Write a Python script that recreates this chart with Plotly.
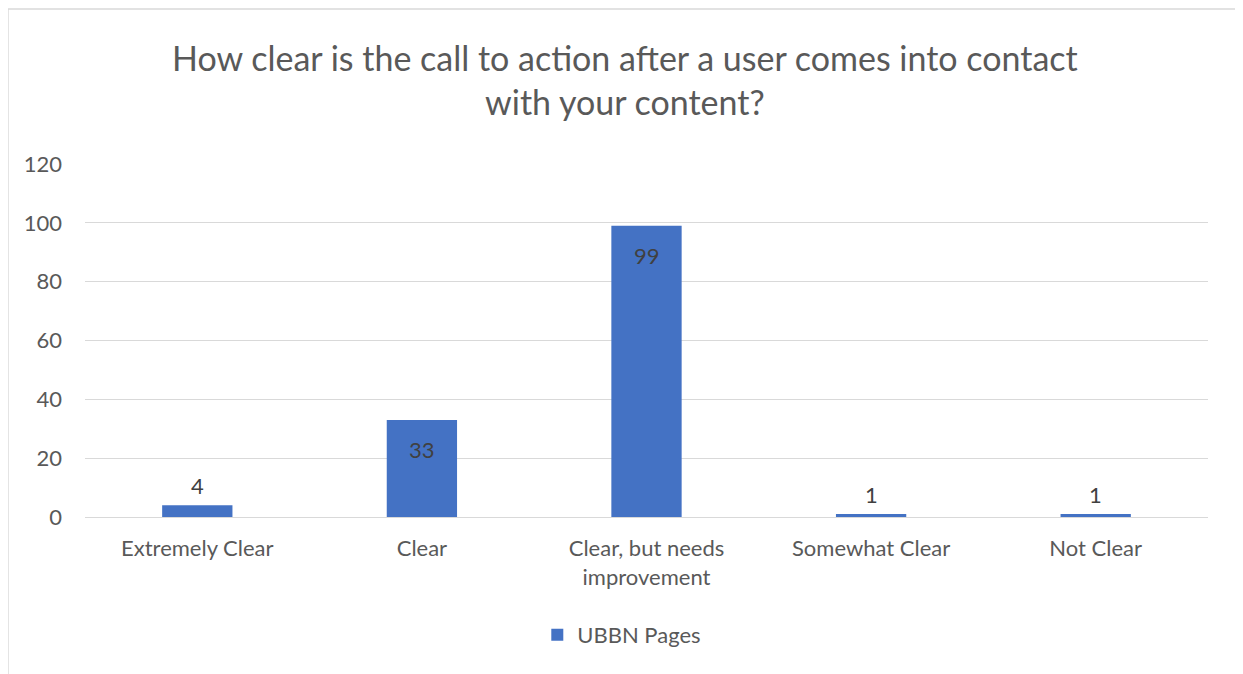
import plotly.graph_objects as go

# survey answers
categories = ["Extremely Clear", "Clear", "Clear, but needs<br>improvement",
              "Somewhat Clear", "Not Clear"]
ubbn_pages = [4, 33, 99, 1, 1]

y_ticks = [0, 20, 40, 60, 80, 100, 120]

FONT = "Lato, Calibri, Carlito, sans-serif"
GRID = "#d9d9d9"

fig = go.Figure()
fig.add_trace(go.Bar(
    x=categories,
    y=ubbn_pages,
    name="UBBN Pages",
    marker=dict(color="#4472C4", line=dict(width=0)),
))

# data labels: inside end for tall bars, above the small ones
labels = []
for cat, v in zip(categories, ubbn_pages):
    labels.append(dict(
        x=cat, y=v, xref="x", yref="y", text=str(v), showarrow=False,
        yanchor="middle", yshift=-30 if v > 20 else 20,
        font=dict(size=22, color="#404040", family=FONT),
    ))

labels.append(dict(
    text="How clear is the call to action after a user comes into contact<br>with your content?",
    x=0.481, y=1.238, xref="paper", yref="paper",
    xanchor="center", yanchor="middle", showarrow=False,
    font=dict(size=34, color="#595959", family=FONT),
))

# page has an 8px body margin, so margins are trimmed to line up
fig.update_layout(
    width=1243, height=674,
    margin=dict(l=77, r=43, t=156, b=165),
    paper_bgcolor="white", plot_bgcolor="white",
    font=dict(family=FONT, size=22, color="#595959"),
    bargap=0.687,
    showlegend=True,
    legend=dict(orientation="h", x=0.478, xanchor="center",
                y=-0.334, yanchor="middle",
                font=dict(size=22, color="#595959")),
    xaxis=dict(showgrid=False, showline=True, linecolor=GRID, linewidth=1,
               ticks="", ticklabelstandoff=12,
               tickfont=dict(size=22, color="#595959")),
    yaxis=dict(range=[0, 120], tickvals=y_ticks, showgrid=True,
               gridcolor=GRID, gridwidth=1, zeroline=False, showline=False,
               ticks="", ticklabelstandoff=22,
               tickfont=dict(size=22, color="#595959")),
    annotations=labels,
    shapes=[dict(
        type="rect", xref="paper", yref="paper",
        x0=-0.0686, x1=1.0294, y0=-0.47, y1=1.439,
        line=dict(color=GRID, width=1.5), fillcolor="rgba(0,0,0,0)",
        layer="below",
    )],
)

fig.write_html("out.html")
